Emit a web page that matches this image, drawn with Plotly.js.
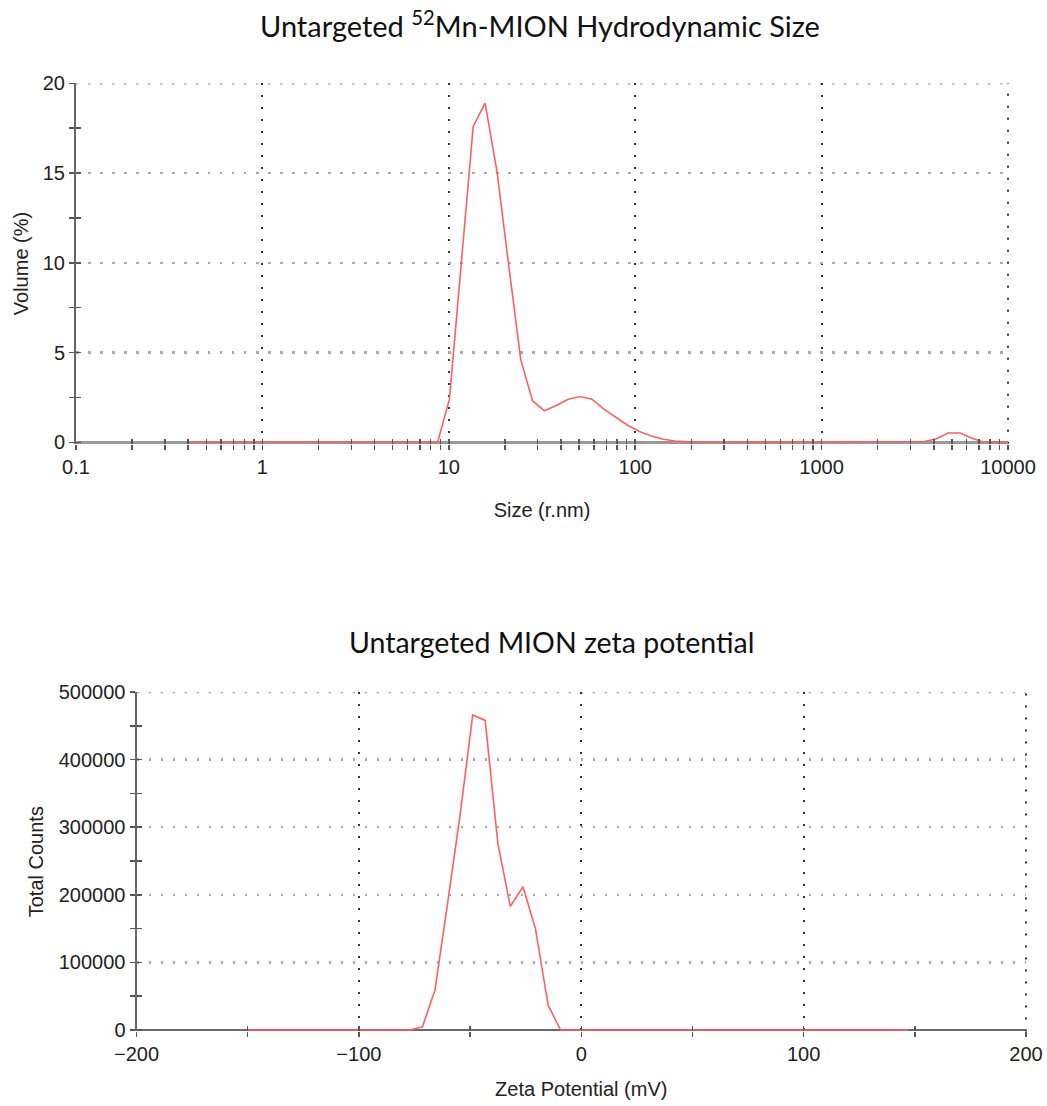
<!DOCTYPE html>
<html>
<head>
<meta charset="utf-8">
<script src="https://cdn.plot.ly/plotly-3.0.1.min.js"></script>
<style>html,body{margin:0;padding:0;background:#fff;}#chart{width:1047px;height:1106px;}</style>
</head>
<body>
<div id="chart"></div>
<script>
// ---- Hydrodynamic size distribution (Volume %) ----
var sizeNm = [0.4, 0.4632, 0.5364, 0.6211, 0.7192, 0.8329, 0.9645, 1.117, 1.293, 1.497,
  1.734, 2.008, 2.325, 2.693, 3.118, 3.611, 4.181, 4.842, 5.607, 6.493,
  7.519, 8.707, 10.08, 11.68, 13.52, 15.66, 18.13, 21.0, 24.32, 28.16,
  32.61, 37.76, 43.73, 50.64, 58.64, 67.9, 78.63, 91.05, 105.4, 122.1,
  141.4, 163.7, 189.6, 219.5, 254.2, 294.4, 340.9, 394.8, 457.2, 529.4,
  613.1, 709.9, 822.1, 952, 1102, 1277, 1478, 1712, 1982, 2296,
  2659, 3079, 3565, 4129, 4781, 5537, 6412, 7425, 8598, 10000];
var volumePct = [0, 0, 0, 0, 0, 0, 0, 0, 0, 0,
  0, 0, 0, 0, 0, 0, 0, 0, 0, 0,
  0, 0, 2.4, 10.0, 17.6, 18.9, 15.1, 9.8, 4.6, 2.3,
  1.75, 2.05, 2.4, 2.55, 2.4, 1.85, 1.4, 0.95, 0.6, 0.35,
  0.17, 0.07, 0.02, 0, 0, 0, 0, 0, 0, 0,
  0, 0, 0, 0, 0, 0, 0, 0, 0, 0,
  0, 0, 0.04, 0.2, 0.52, 0.52, 0.22, 0, 0, 0];
var sizeTickVals = [0.1, 1, 10, 100, 1000, 10000];
var sizeTickText = ['0.1', '1', '10', '100', '1000', '10000'];

// ---- Zeta potential distribution (Total counts) ----
var zetaMv = [-150, -77.1, -71.4, -65.8, -60.2, -54.5, -48.8, -43.2, -37.5, -31.9, -26.2, -20.6, -14.9, -9.3, 147];
var totalCounts = [0, 0, 4900, 59000, 185000, 318000, 466000, 458000, 276000, 183000, 212000, 150000, 37000, 0, 0];

// ---- Text ----
var titleSize = 'Untargeted <sup>52</sup>Mn-MION Hydrodynamic Size';
var titleZeta = 'Untargeted MION zeta potential';
var xTitleSize = 'Size (r.nm)';
var yTitleSize = 'Volume (%)';
var xTitleZeta = 'Zeta Potential (mV)';
var yTitleZeta = 'Total Counts';

var W = 1047, H = 1106;
var lineColor = 'rgb(255,95,95)';
var tickFont = {family: 'Liberation Sans, Arial, sans-serif', size: 20, color: '#222'};
var axTitleFont = {family: 'Liberation Sans, Arial, sans-serif', size: 20, color: '#222'};
var titleFont = {family: 'Lato, Open Sans, sans-serif', size: 29, color: '#111'};
var titleFont2 = {family: 'Lato, Open Sans, sans-serif', size: 28.5, color: '#111'};

function px(x){ return x / W; }
function py(y){ return 1 - y / H; }

var hGridColor = '#a8a8a8', hGridW = 2.5, hGridDash = '2.5px,9.5px';
var vGridColor = '#333', vGridW = 2, vGridDash = '2px,10px';
var hGrid = {showgrid: true, gridcolor: hGridColor, gridwidth: hGridW, griddash: hGridDash};
var vGrid = {showgrid: true, gridcolor: vGridColor, gridwidth: vGridW, griddash: vGridDash};

var topXDom = [px(76), px(1008)];
var topYDom = [py(443.7), py(83.3)];
var botXDom = [px(136.5), px(1026)];
var botYDom = [py(1031.4), py(692)];

var traces = [
  {x: sizeNm, y: volumePct, type: 'scatter', mode: 'lines', xaxis: 'x', yaxis: 'y',
   line: {color: lineColor, width: 1.6}, hoverinfo: 'x+y', showlegend: false},
  {x: zetaMv, y: totalCounts, type: 'scatter', mode: 'lines', xaxis: 'x2', yaxis: 'y2',
   line: {color: lineColor, width: 1.6}, hoverinfo: 'x+y', showlegend: false},
  {x: [], y: [], type: 'scatter', xaxis: 'x3', yaxis: 'y3', showlegend: false, hoverinfo: 'skip'},
  {x: [], y: [], type: 'scatter', xaxis: 'x4', yaxis: 'y4', showlegend: false, hoverinfo: 'skip'}
];

var topXRange = [-1, 4], topYRange = [-0.08, 20];
var botXRange = [-200, 200], botYRange = [-2000, 500000];
var tk = {ticklen: 5, tickwidth: 1.5, tickcolor: '#555'};

var layout = {
  width: W, height: H,
  margin: {l: 0, r: 0, t: 0, b: 0},
  paper_bgcolor: '#fff', plot_bgcolor: '#fff',
  showlegend: false,
  xaxis: Object.assign({
    type: 'log', range: topXRange, domain: topXDom, anchor: 'y',
    tickmode: 'array', tickvals: sizeTickVals, ticktext: sizeTickText,
    showline: false,
    ticks: 'outside',
    minor: Object.assign({tickmode: 'linear', dtick: 'D1', ticks: 'outside', showgrid: false}, tk),
    tickfont: tickFont, zeroline: false, automargin: false,
    title: {text: xTitleSize, font: axTitleFont, standoff: 26}
  }, tk, vGrid),
  yaxis: Object.assign({
    range: topYRange, domain: topYDom, anchor: 'x',
    tickmode: 'linear', tick0: 0, dtick: 5,
    showline: true, linecolor: '#666', linewidth: 2, layer: 'below traces',
    ticks: 'outside',
    minor: Object.assign({dtick: 2.5, ticks: 'outside', showgrid: false}, tk),
    tickfont: tickFont, automargin: false,
    zeroline: true, zerolinecolor: '#9a9a9a', zerolinewidth: 3,
    title: {text: yTitleSize, font: axTitleFont, standoff: 9}
  }, tk, hGrid),
  xaxis3: Object.assign({
    type: 'log', range: topXRange, overlaying: 'x', anchor: 'y3',
    tickmode: 'array', tickvals: sizeTickVals, showticklabels: false, showgrid: false, showline: false, zeroline: false,
    ticks: 'inside',
    minor: Object.assign({tickmode: 'linear', dtick: 'D1', ticks: 'inside', showgrid: false}, tk)
  }, tk),
  yaxis3: Object.assign({
    range: topYRange, overlaying: 'y', anchor: 'x3',
    tickmode: 'linear', tick0: 0, dtick: 5, showticklabels: false, showgrid: false, showline: false, zeroline: false,
    ticks: 'inside',
    minor: Object.assign({dtick: 2.5, ticks: 'inside', showgrid: false}, tk)
  }, tk),
  xaxis2: Object.assign({
    range: botXRange, domain: botXDom, anchor: 'y2',
    tickmode: 'linear', tick0: 0, dtick: 100,
    showline: false,
    ticks: 'outside',
    minor: Object.assign({dtick: 50, ticks: 'outside', showgrid: false}, tk),
    tickfont: tickFont, zeroline: false, automargin: false,
    title: {text: xTitleZeta, font: axTitleFont, standoff: 17}
  }, tk, vGrid),
  yaxis2: Object.assign({
    range: botYRange, domain: botYDom, anchor: 'x2',
    tickmode: 'linear', tick0: 0, dtick: 100000, tickformat: 'd',
    showline: true, linecolor: '#666', linewidth: 2, layer: 'below traces',
    ticks: 'outside',
    minor: Object.assign({dtick: 50000, ticks: 'outside', showgrid: false}, tk),
    tickfont: tickFont, automargin: false,
    zeroline: true, zerolinecolor: '#6a6a6a', zerolinewidth: 1.8,
    title: {text: yTitleZeta, font: axTitleFont, standoff: 10}
  }, tk, hGrid),
  xaxis4: Object.assign({
    range: botXRange, overlaying: 'x2', anchor: 'y4',
    tickmode: 'linear', tick0: 0, dtick: 100, showticklabels: false, showgrid: false, showline: false, zeroline: false,
    ticks: 'inside',
    minor: Object.assign({dtick: 50, ticks: 'inside', showgrid: false}, tk)
  }, tk),
  yaxis4: Object.assign({
    range: botYRange, overlaying: 'y2', anchor: 'x4',
    tickmode: 'linear', tick0: 0, dtick: 100000, showticklabels: false, showgrid: false, showline: false, zeroline: false,
    ticks: 'inside',
    minor: Object.assign({dtick: 50000, ticks: 'inside', showgrid: false}, tk)
  }, tk),
  shapes: [
    // edge grid lines that Plotly omits at the range limits
    {type: 'line', layer: 'below', xref: 'x domain', yref: 'y', x0: 0, x1: 1, y0: topYRange[1], y1: topYRange[1],
     line: {color: hGridColor, width: hGridW, dash: hGridDash}},
    {type: 'line', layer: 'below', xref: 'x domain', yref: 'y domain', x0: 1, x1: 1, y0: 0, y1: 1,
     line: {color: vGridColor, width: vGridW, dash: vGridDash}},
    {type: 'line', layer: 'below', xref: 'x2 domain', yref: 'y2', x0: 0, x1: 1, y0: botYRange[1], y1: botYRange[1],
     line: {color: hGridColor, width: hGridW, dash: hGridDash}},
    {type: 'line', layer: 'below', xref: 'x2 domain', yref: 'y2 domain', x0: 1, x1: 1, y0: 0, y1: 1,
     line: {color: vGridColor, width: vGridW, dash: vGridDash}}
  ],
  annotations: [
    {text: titleSize, xref: 'paper', yref: 'paper', x: px(540), y: py(24), xanchor: 'center', yanchor: 'middle',
     showarrow: false, font: titleFont},
    {text: titleZeta, xref: 'paper', yref: 'paper', x: px(552), y: py(642), xanchor: 'center', yanchor: 'middle',
     showarrow: false, font: titleFont2}
  ]
};

Plotly.newPlot('chart', traces, layout, {displayModeBar: false, staticPlot: true});
</script>
</body>
</html>
